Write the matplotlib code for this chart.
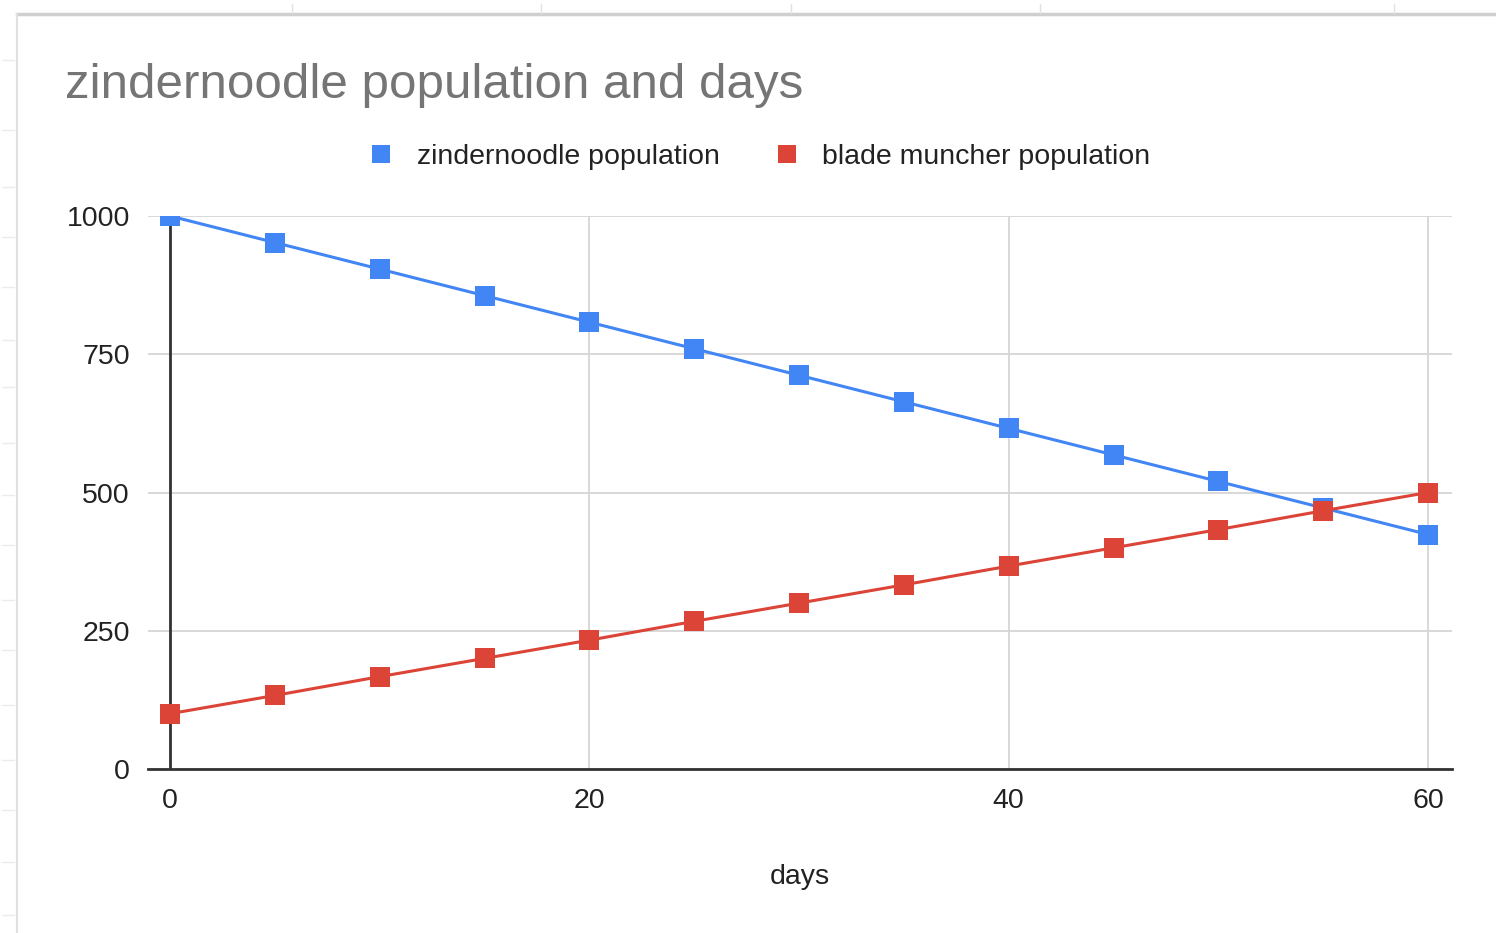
import matplotlib
matplotlib.use("Agg")
import matplotlib.pyplot as plt
from matplotlib.lines import Line2D

plt.rcParams['font.family'] = ['Liberation Sans', 'DejaVu Sans']

days = [0, 5, 10, 15, 20, 25, 30, 35, 40, 45, 50, 55, 60]
zindernoodle = [1000, 952, 904, 856, 808, 760, 712, 664, 616, 568, 520, 472, 424]
blade_muncher = [100, 133, 167, 200, 233, 267, 300, 333, 367, 400, 433, 467, 500]
series_names = ["zindernoodle population", "blade muncher population"]
x_ticks = [0, 20, 40, 60]
y_ticks = [0, 250, 500, 750, 1000]

BLUE = "#4285F4"
RED = "#DB4437"
TEXT = "#222222"
FS = 20.5

W, H = 1496, 933
fig = plt.figure(figsize=(W / 100, H / 100), dpi=100)
fig.patch.set_facecolor("white")

# sheet frame around the chart
frame = dict(color="#cfcfcf", lw=2.5, transform=fig.transFigure)
fig.add_artist(Line2D([17 / W, 1], [1 - 14 / H, 1 - 14 / H], **frame))
fig.add_artist(Line2D([17 / W, 17 / W], [0, 1 - 14 / H], color="#e0e0e0", lw=1.5,
                      transform=fig.transFigure))
for cx in [292, 541, 791, 1040, 1394]:
    fig.add_artist(Line2D([cx / W, cx / W], [1 - 4 / H, 1 - 13 / H], color="#e2e2e2",
                          lw=1, transform=fig.transFigure))
for ry in [60, 130, 187, 237, 287, 340, 387, 443, 495, 545, 600, 650, 705, 760, 810, 862, 915]:
    fig.add_artist(Line2D([2 / W, 14 / W], [1 - ry / H, 1 - ry / H], color="#ececec",
                          lw=1, transform=fig.transFigure))

ax = fig.add_axes([148 / W, 1 - 769 / H, (1452 - 148) / W, (769 - 216) / H])
ax.set_xlim(-1.05, 61.14)
ax.set_ylim(0, 1000)

ax.plot(days, zindernoodle, color=BLUE, lw=2.2, marker="s", ms=14,
        markeredgewidth=0, zorder=3, label=series_names[0])
ax.plot(days, blade_muncher, color=RED, lw=2.2, marker="s", ms=14,
        markeredgewidth=0, zorder=4, label=series_names[1])

ax.set_xticks(x_ticks)
ax.set_yticks(y_ticks)
ax.tick_params(axis="both", length=0, labelsize=FS, labelcolor=TEXT)
ax.tick_params(axis="x", pad=14)
ax.tick_params(axis="y", pad=13)
ax.grid(True, color="#d6d6d6", lw=1.3, zorder=0)
ax.set_axisbelow(True)
for side in ["top", "right", "left"]:
    ax.spines[side].set_visible(False)
ax.spines["bottom"].set_color("#333333")
ax.spines["bottom"].set_linewidth(2)
ax.axvline(0, color="#333333", lw=2, zorder=2)

ax.set_xlabel("days", fontsize=FS, color=TEXT, labelpad=36)

fig.text(65 / W, 1 - 85 / H, "zindernoodle population and days", fontsize=35.5,
         color="#757575", ha="left", va="center")

handles = [Line2D([], [], ls="none", marker="s", ms=13, color=c, markeredgewidth=0)
           for c in (BLUE, RED)]
fig.legend(handles, series_names, loc="center", bbox_to_anchor=(761 / W, 1 - 157 / H),
           ncol=2, frameon=False, fontsize=FS, labelcolor=TEXT, handlelength=0.7,
           handletextpad=0.9, columnspacing=2.0)

fig.savefig("out.png", dpi=100, facecolor="white")
